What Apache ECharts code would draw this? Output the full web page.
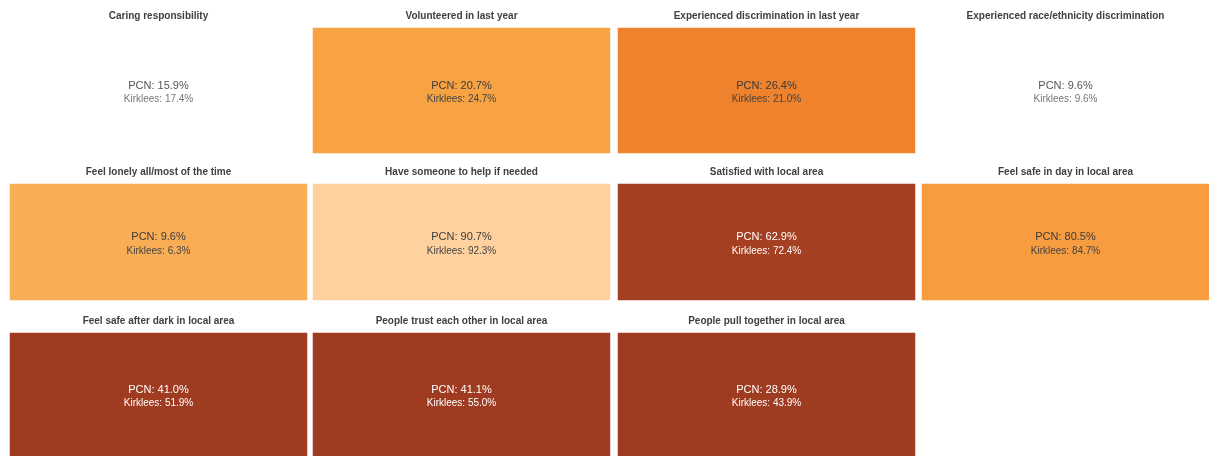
<!DOCTYPE html>
<html>
<head>
<meta charset="utf-8">
<script src="https://cdn.jsdelivr.net/npm/echarts@6/dist/echarts.min.js"></script>
<style>
  html, body { margin: 0; padding: 0; background: #fff; }
  #chart { width: 1209px; height: 456px; }
</style>
</head>
<body>
<div id="chart"></div>
<script>
// Survey indicators: PCN value against Kirklees average
const indicators = [
  'Caring responsibility',
  'Volunteered in last year',
  'Experienced discrimination in last year',
  'Experienced race/ethnicity discrimination',
  'Feel lonely all/most of the time',
  'Have someone to help if needed',
  'Satisfied with local area',
  'Feel safe in day in local area',
  'Feel safe after dark in local area',
  'People trust each other in local area',
  'People pull together in local area'
];
const pcnValues = [15.9, 20.7, 26.4, 9.6, 9.6, 90.7, 62.9, 80.5, 41.0, 41.1, 28.9];
const kirkleesValues = [17.4, 24.7, 21.0, 9.6, 6.3, 92.3, 72.4, 84.7, 51.9, 55.0, 43.9];

// Tile fill per indicator (white = no notable difference)
const tileColors = [
  '#ffffff', '#f7a243', '#ee822d', '#ffffff',
  '#f9ae56', '#fed19f', '#a53f21', '#f79c3f',
  '#9e3b20', '#9e3b20', '#9e3b20'
];
// Text tone per tile: 'plain' on white, 'dark' on light fills, 'light' on dark fills
const textTones = [
  'plain', 'dark', 'dark', 'plain',
  'dark', 'dark', 'light', 'dark',
  'light', 'light', 'light'
];

// Layout of the tile matrix
const colLefts = [10, 313, 618, 922];
const colWidth = 297;
const rowTops = [28, 184, 333];
const rowHeights = [125, 116, 125];
const FONT = '"Liberation Sans", Arial, sans-serif';

const toneStyles = {
  plain: { a: '#555555', b: '#777777' },
  dark:  { a: '#3a3a3a', b: '#444444' },
  light: { a: '#ffffff', b: '#ffffff' }
};

const grids = [], xAxes = [], yAxes = [], series = [];
indicators.forEach((name, i) => {
  const col = i % 4, row = Math.floor(i / 4);
  grids.push({
    left: colLefts[col], top: rowTops[row],
    width: colWidth, height: rowHeights[row],
    containLabel: false
  });
  xAxes.push({
    gridIndex: i, type: 'category', data: [name], position: 'top',
    name: name, nameLocation: 'middle', nameGap: 7,
    nameTextStyle: { fontFamily: FONT, fontSize: 10, fontWeight: 'bold', color: '#404040' },
    axisLine: { show: false }, axisTick: { show: false },
    axisLabel: { show: false }, splitLine: { show: false }
  });
  yAxes.push({
    gridIndex: i, type: 'category', data: ['PCN'],
    axisLine: { show: false }, axisTick: { show: false },
    axisLabel: { show: false }, splitLine: { show: false }
  });
  const tone = toneStyles[textTones[i]];
  series.push({
    type: 'heatmap',
    xAxisIndex: i, yAxisIndex: i,
    data: [{
      value: [0, 0, pcnValues[i]],
      kirklees: kirkleesValues[i],
      itemStyle: { color: tileColors[i] }
    }],
    itemStyle: { borderWidth: 0 },
    emphasis: { disabled: true },
    label: {
      show: true,
      offset: [0, 2],
      formatter: p => '{a|PCN: ' + p.value[2].toFixed(1) + '%}\n{b|Kirklees: ' + p.data.kirklees.toFixed(1) + '%}',
      rich: {
        a: { fontFamily: FONT, fontSize: 11, color: tone.a, lineHeight: 14, align: 'center' },
        b: { fontFamily: FONT, fontSize: 10, color: tone.b, lineHeight: 14, align: 'center' }
      }
    }
  });
});

const chart = echarts.init(document.getElementById('chart'), null, { renderer: 'canvas' });
chart.setOption({
  animation: false,
  backgroundColor: '#ffffff',
  grid: grids,
  xAxis: xAxes,
  yAxis: yAxes,
  series: series
});
</script>
</body>
</html>
